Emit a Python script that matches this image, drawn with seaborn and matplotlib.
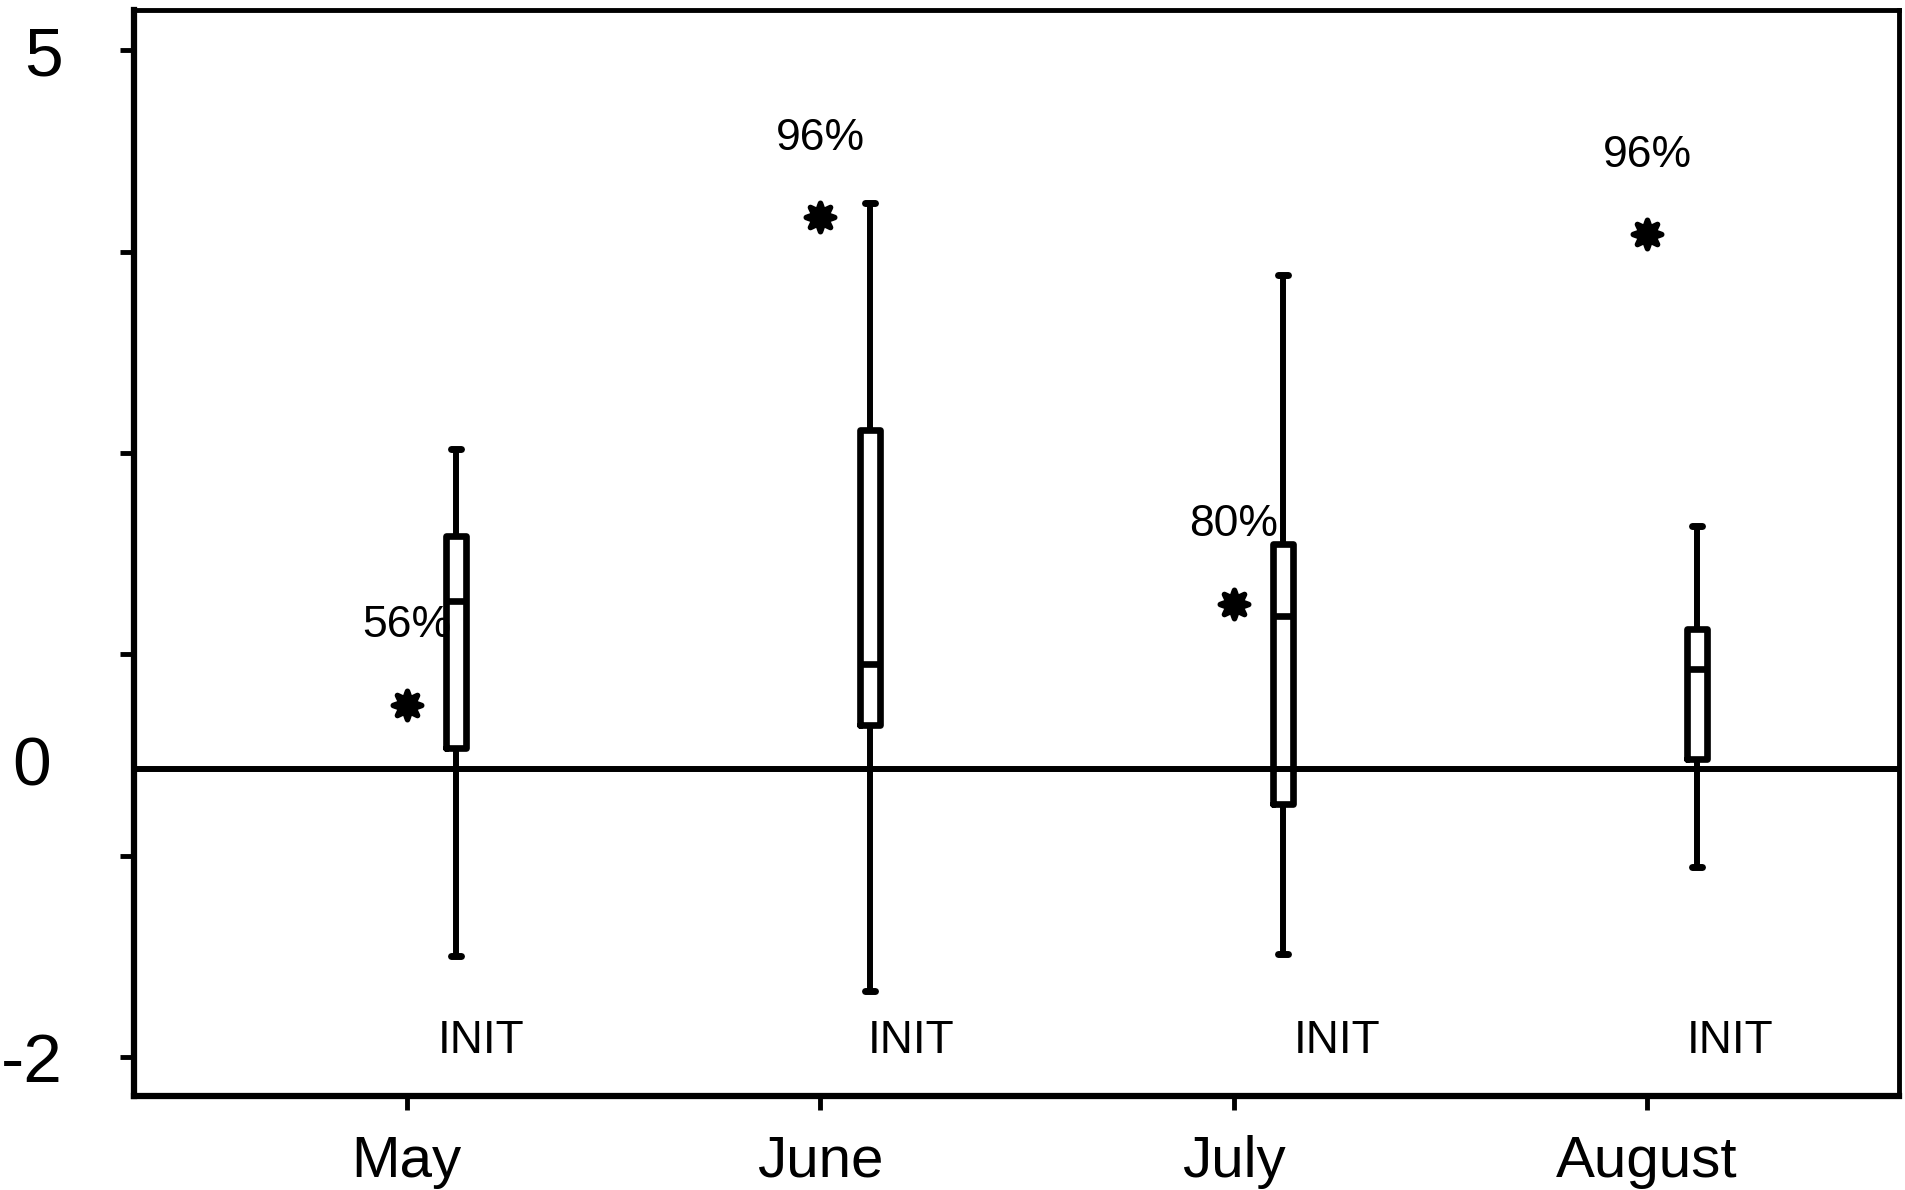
import numpy as np
import pandas as pd
import seaborn as sns
import matplotlib.pyplot as plt

sns.set_style("ticks")
plt.rcParams['font.family'] = ['Liberation Sans', 'DejaVu Sans']
plt.rcParams['text.color'] = 'black'
plt.rcParams['xtick.color'] = 'black'
plt.rcParams['ytick.color'] = 'black'

# values
months = ["May", "June", "July", "August"]
star_vals = [0.45, 3.84, 1.15, 3.72]
star_pct = ["56%", "96%", "80%", "96%"]
# five-number summaries: whisker low, q1, median, q3, whisker high
whis_lo = [-1.30, -1.54, -1.28, -0.68]
q1 = [0.15, 0.31, -0.24, 0.07]
med = [1.17, 0.73, 1.07, 0.70]
q3 = [1.62, 2.36, 1.57, 0.98]
whis_hi = [2.23, 3.94, 3.44, 1.69]
init_label = "INIT"
init_shift = [0.18, 0.22, 0.25, 0.20]

pos = np.arange(len(months))
box_shift = 0.12

# five points per month -> quartiles land exactly on the read values
rows = []
for i in range(len(months)):
    for v in (whis_lo[i], q1[i], med[i], q3[i], whis_hi[i]):
        rows.append({"pos": pos[i] + box_shift, "value": v})
box_df = pd.DataFrame(rows)
star_df = pd.DataFrame({"pos": pos, "value": star_vals})

fig = plt.figure(figsize=(19.05, 11.9), dpi=100)
ax = fig.add_axes([0.0703, 0.079, 0.9267, 0.9126])

ax.axhline(0, color="black", lw=4.3, zorder=1)

sns.boxplot(data=box_df, x="pos", y="value", native_scale=True, width=0.048,
            whis=(0, 100), fill=False, color="black", linewidth=4.8,
            showfliers=False, ax=ax,
            boxprops=dict(solid_joinstyle="round"),
            capprops=dict(solid_capstyle="round", lw=5),
            whiskerprops=dict(lw=4.3),
            medianprops=dict(lw=4.8, color="black"))

# flower-like asterisk: 8-point star plus a filled core
sns.scatterplot(data=star_df, x="pos", y="value", marker=(8, 1, 0), s=420,
                color="black", edgecolor="black", linewidth=4, ax=ax, zorder=3)
sns.scatterplot(data=star_df, x="pos", y="value", marker="o", s=170,
                color="black", edgecolor="black", linewidth=0, ax=ax, zorder=3)

for i in range(len(months)):
    ax.text(pos[i], star_vals[i] + 0.55, star_pct[i], ha="center", va="center",
            fontsize=32)
    ax.text(pos[i] + init_shift[i], -1.89, init_label, ha="center", va="center",
            fontsize=33)

ax.set_xlim(-0.66, 3.61)
ax.set_ylim(-2.27, 5.28)

ax.set_xticks(pos)
ax.set_xticklabels(months)
ax.set_yticks([-2, -0.6, 0.8, 2.2, 3.6, 5])
ax.set_yticklabels(["-2", "", "", "", "", "5"])
ax.set_yticks([0.06], minor=True)
ax.set_yticklabels(["0"], minor=True)
ax.tick_params(axis="y", which="minor", length=0, pad=60, labelsize=50)
ax.tick_params(axis="y", which="major", length=10, width=3.5, pad=41, labelsize=50)
ax.tick_params(axis="x", length=10, width=3.5, pad=18, labelsize=42)
ax.set_xlabel("")
ax.set_ylabel("")

for side in ["left", "bottom"]:
    ax.spines[side].set_linewidth(4.5)
for side in ["top", "right"]:
    ax.spines[side].set_linewidth(3.5)
for s in ax.spines.values():
    s.set_color("black")

fig.savefig("out.png", dpi=100)
